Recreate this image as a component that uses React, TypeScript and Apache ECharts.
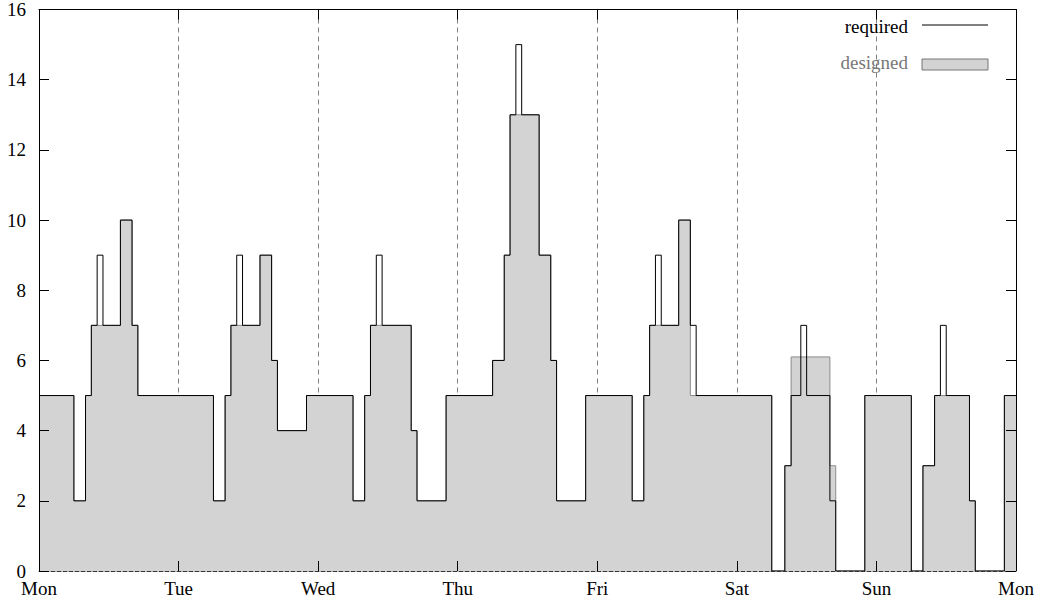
import React, { useEffect, useRef } from "react";
import * as echarts from "echarts";

// Day tick labels (every 24 h)
const dayLabels = ["Mon", "Tue", "Wed", "Thu", "Fri", "Sat", "Sun", "Mon"];

// Required staffing: value holds from hour[i] until hour[i+1]
const requiredHours = [
  0, 6, 8, 9, 10, 11, 14, 16, 17,
  30, 32, 33, 34, 35, 38, 40, 41, 46,
  54, 56, 57, 58, 59, 64, 65, 70,
  78, 80, 81, 82, 83, 86, 88, 89, 94,
  102, 104, 105, 106, 107, 110, 112, 113,
  126, 128.25, 129.33, 131, 132, 136, 137, 142,
  150, 152, 154, 155, 156, 160, 161, 166, 168,
];
const requiredValues = [
  5, 2, 5, 7, 9, 7, 10, 7, 5,
  2, 5, 7, 9, 7, 9, 6, 4, 5,
  2, 5, 7, 9, 7, 4, 2, 5,
  6, 9, 13, 15, 13, 9, 6, 2, 5,
  2, 5, 7, 9, 7, 10, 7, 5,
  0, 3, 5, 7, 5, 2, 0, 5,
  0, 3, 5, 7, 5, 2, 0, 5, 5,
];

// Designed staffing
const designedHours = [
  0, 6, 8, 9, 14, 16, 17,
  30, 32, 33, 38, 40, 41, 46,
  54, 56, 57, 64, 65, 70,
  78, 80, 81, 86, 88, 89, 94,
  102, 104, 105, 110, 112,
  126, 128.25, 129.33, 136, 137, 142,
  150, 152, 154, 160, 161, 166, 168,
];
const designedValues = [
  5, 2, 5, 7, 10, 7, 5,
  2, 5, 7, 9, 6, 4, 5,
  2, 5, 7, 4, 2, 5,
  6, 9, 13, 9, 6, 2, 5,
  2, 5, 7, 10, 5,
  0, 3, 6.1, 3, 0, 5,
  0, 3, 5, 2, 0, 5, 5,
];

const FONT = "'Liberation Serif', 'Times New Roman', serif";

export default function App() {
  const ref = useRef<HTMLDivElement>(null);

  useEffect(() => {
    document.body.style.margin = "0";
    if (!ref.current) return;
    const chart = echarts.init(ref.current, undefined, { renderer: "svg" });

    const required = requiredHours.map((h, i) => [h, requiredValues[i]]);
    const designed = designedHours.map((h, i) => [h, designedValues[i]]);

    const xBase = { type: "value", min: 0, max: 168, interval: 24 };
    const yBase = { type: "value", min: 0, max: 16, interval: 2 };

    chart.setOption({
      animation: false,
      backgroundColor: "#ffffff",
      grid: { left: 39, right: 21, top: 8, bottom: 33, containLabel: false },
      xAxis: [
        {
          ...xBase,
          position: "bottom",
          z: 10,
          axisLine: { show: true, onZero: false, lineStyle: { color: "#333", width: 1, type: [4, 2] } },
          axisTick: { show: true, inside: true, length: 10, lineStyle: { color: "#000", width: 1 } },
          axisLabel: {
            show: true,
            margin: 8,
            color: "#000",
            fontFamily: FONT,
            fontSize: 19,
            formatter: (v: number) => dayLabels[Math.round(v / 24)] ?? "",
          },
          splitLine: { show: false },
        },
        {
          ...xBase,
          position: "top",
          z: 10,
          axisLine: { show: true, onZero: false, lineStyle: { color: "#000", width: 1 } },
          axisTick: { show: true, inside: true, length: 10, lineStyle: { color: "#000", width: 1 } },
          axisLabel: { show: false },
          splitLine: { show: false },
        },
        {
          ...xBase,
          position: "bottom",
          z: 0,
          axisLine: { show: false },
          axisTick: { show: false },
          axisLabel: { show: false },
          splitLine: {
            show: true,
            showMinLine: false,
            showMaxLine: false,
            lineStyle: { color: "#808080", width: 1, type: [5, 4] },
          },
        },
      ],
      yAxis: [
        {
          ...yBase,
          position: "left",
          z: 10,
          axisLine: { show: true, onZero: false, lineStyle: { color: "#000", width: 1 } },
          axisTick: { show: true, inside: true, length: 10, lineStyle: { color: "#000", width: 1 } },
          axisLabel: { show: true, margin: 13, color: "#000", fontFamily: FONT, fontSize: 19 },
          splitLine: { show: false },
        },
        {
          ...yBase,
          position: "right",
          z: 10,
          axisLine: { show: true, onZero: false, lineStyle: { color: "#000", width: 1 } },
          axisTick: { show: true, inside: true, length: 10, lineStyle: { color: "#000", width: 1 } },
          axisLabel: { show: false },
          splitLine: { show: false },
        },
      ],
      series: [
        {
          name: "designed",
          type: "line",
          step: "end",
          xAxisIndex: 0,
          yAxisIndex: 0,
          data: designed,
          showSymbol: false,
          symbol: "none",
          z: 2,
          lineStyle: { color: "#8c8c8c", width: 1 },
          areaStyle: { color: "#d3d3d3", opacity: 1 },
        },
        {
          name: "required",
          type: "line",
          step: "end",
          xAxisIndex: 0,
          yAxisIndex: 0,
          data: required,
          showSymbol: false,
          symbol: "none",
          z: 3,
          lineStyle: { color: "#000", width: 1 },
        },
      ],
      graphic: [
        {
          type: "text",
          x: 908,
          y: 26,
          z: 20,
          style: {
            text: "required",
            fill: "#000",
            font: `19px ${FONT}`,
            textAlign: "right",
            textVerticalAlign: "middle",
          },
        },
        {
          type: "line",
          z: 20,
          shape: { x1: 922, y1: 25, x2: 988, y2: 25 },
          style: { stroke: "#000", lineWidth: 1 },
        },
        {
          type: "text",
          x: 908,
          y: 62,
          z: 20,
          style: {
            text: "designed",
            fill: "#777",
            font: `19px ${FONT}`,
            textAlign: "right",
            textVerticalAlign: "middle",
          },
        },
        {
          type: "rect",
          z: 20,
          shape: { x: 922, y: 59, width: 66, height: 11 },
          style: { fill: "#d3d3d3", stroke: "#777", lineWidth: 1 },
        },
      ],
    });

    return () => chart.dispose();
  }, []);

  return <div ref={ref} style={{ width: 1037, height: 604 }} />;
}
